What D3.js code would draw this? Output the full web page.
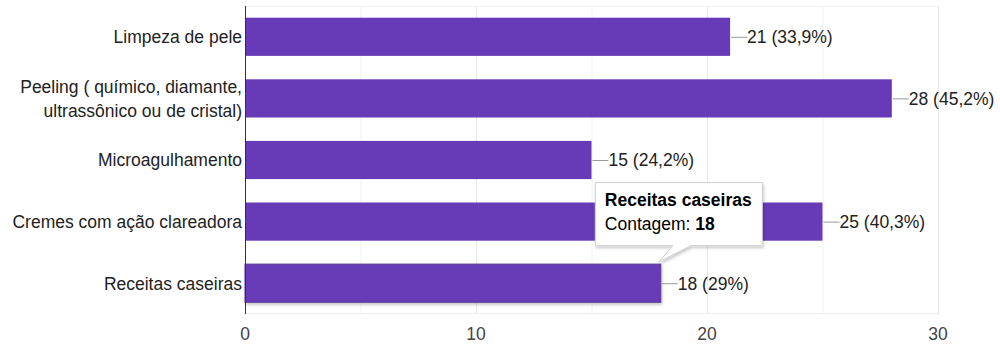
<!DOCTYPE html>
<html>
<head>
<meta charset="utf-8">
<script src="https://cdnjs.cloudflare.com/ajax/libs/d3/7.8.5/d3.min.js"></script>
<style>
  body { margin: 0; background: #fff; }
  svg { display: block; font-family: "Liberation Sans", Arial, sans-serif; }
</style>
</head>
<body>
<svg width="1000" height="346"></svg>
<script>
var categories = [
  ["Limpeza de pele"],
  ["Peeling ( químico, diamante,", "ultrassônico ou de cristal)"],
  ["Microagulhamento"],
  ["Cremes com ação clareadora"],
  ["Receitas caseiras"]
];
var counts = [21, 28, 15, 25, 18];
var percents = ["33,9%", "45,2%", "24,2%", "40,3%", "29%"];
var xTicks = [0, 10, 20, 30];
var gridTicks = [0, 5, 10, 15, 20, 25, 30];
var hovered = 4;

var svg = d3.select("svg");
var margin = { top: 6, right: 62, bottom: 32, left: 245 };
var width = +svg.attr("width") - margin.left - margin.right;
var height = +svg.attr("height") - margin.top - margin.bottom;
var fontSize = 17.5;

var x = d3.scaleLinear().domain([0, 30]).range([0, width]);
var y = d3.scaleBand().domain(d3.range(counts.length)).range([0, height]).paddingInner(0.38).paddingOuter(0.19);

var defs = svg.append("defs");
var shadow = defs.append("filter").attr("id", "shadow").attr("x", "-20%").attr("y", "-20%").attr("width", "140%").attr("height", "150%");
shadow.append("feDropShadow").attr("dx", 1).attr("dy", 2).attr("stdDeviation", 1.5).attr("flood-color", "#000").attr("flood-opacity", 0.22);

var g = svg.append("g").attr("transform", "translate(" + margin.left + "," + margin.top + ")");

// gridlines
g.selectAll(".grid")
  .data(gridTicks)
  .enter().append("line")
  .attr("x1", function(d) { return x(d) + 0.5; })
  .attr("x2", function(d) { return x(d) + 0.5; })
  .attr("y1", 0)
  .attr("y2", height)
  .attr("stroke", function(d) { return d % 10 === 0 ? "#e6e6e6" : "#f2f2f2"; });

g.append("line")
  .attr("x1", 0).attr("x2", width)
  .attr("y1", 0.5).attr("y2", 0.5)
  .attr("stroke", "#f0f0f0");
g.append("line")
  .attr("x1", 0).attr("x2", width)
  .attr("y1", height - 0.5).attr("y2", height - 0.5)
  .attr("stroke", "#ececec");

// bars
g.selectAll(".bar")
  .data(counts)
  .enter().append("rect")
  .attr("class", "bar")
  .attr("x", 0)
  .attr("y", function(d, i) { return y(i); })
  .attr("width", function(d) { return x(d); })
  .attr("height", y.bandwidth())
  .attr("fill", "#673ab7")
  .attr("stroke", function(d, i) { return i === hovered ? "#5b3a99" : "none"; })
  .attr("filter", function(d, i) { return i === hovered ? "url(#shadow)" : null; });

// leader lines and value labels
g.selectAll(".leader")
  .data(counts)
  .enter().append("line")
  .attr("x1", function(d) { return x(d) + 1; })
  .attr("x2", function(d) { return x(d) + 17; })
  .attr("y1", function(d, i) { return y(i) + y.bandwidth() / 2 + 0.5; })
  .attr("y2", function(d, i) { return y(i) + y.bandwidth() / 2 + 0.5; })
  .attr("stroke", "#999");

g.selectAll(".vlabel")
  .data(counts)
  .enter().append("text")
  .attr("x", function(d) { return x(d) + 17; })
  .attr("y", function(d, i) { return y(i) + y.bandwidth() / 2; })
  .attr("dy", "0.36em")
  .attr("font-size", fontSize)
  .attr("fill", "#222")
  .text(function(d, i) { return d + " (" + percents[i] + ")"; });

// baseline (zero)
g.append("line")
  .attr("x1", x(0) + 0.5).attr("x2", x(0) + 0.5)
  .attr("y1", 0).attr("y2", height)
  .attr("stroke", "#333");

// category labels
var cat = g.selectAll(".cat")
  .data(categories)
  .enter().append("text")
  .attr("text-anchor", "end")
  .attr("font-size", fontSize)
  .attr("fill", "#222")
  .attr("x", -3)
  .attr("y", function(d, i) { return y(i) + y.bandwidth() / 2; });
cat.selectAll("tspan")
  .data(function(d) { return d; })
  .enter().append("tspan")
  .attr("x", -3)
  .attr("dy", function(d, j, nodes) {
    var n = nodes.length;
    return j === 0 ? (0.36 - (n - 1) * 0.68) + "em" : "1.36em";
  })
  .text(function(d) { return d; });

// x axis labels
g.selectAll(".xtick")
  .data(xTicks)
  .enter().append("text")
  .attr("x", function(d) { return x(d); })
  .attr("y", height + 26)
  .attr("text-anchor", "middle")
  .attr("font-size", fontSize)
  .attr("fill", "#444")
  .text(function(d) { return d; });

// tooltip for hovered bar
var tipX = x(counts[hovered]) - 66;
var tipY = y(hovered) - 82;
var tipW = 168, tipH = 64;
var tip = g.append("g").attr("transform", "translate(" + tipX + "," + tipY + ")");
var tailX = x(counts[hovered]) - 2 - tipX;
tip.append("path")
  .attr("d", "M0.5,0.5 H" + (tipW - 0.5) + " V" + (tipH - 0.5) + " H" + (tailX + 32) +
    " L" + tailX + "," + (tipH + 16) + " L" + (tailX + 14) + "," + (tipH - 0.5) +
    " H0.5 Z")
  .attr("fill", "#fff")
  .attr("stroke", "#d0d0d0")
  .attr("filter", "url(#shadow)");
tip.append("text")
  .attr("x", 10).attr("y", 24)
  .attr("font-size", fontSize).attr("font-weight", "bold").attr("fill", "#000")
  .text(categories[hovered][0]);
var t2 = tip.append("text")
  .attr("x", 10).attr("y", 48)
  .attr("font-size", fontSize).attr("fill", "#000");
t2.append("tspan").text("Contagem: ");
t2.append("tspan").attr("font-weight", "bold").text(counts[hovered]);
</script>
</body>
</html>
